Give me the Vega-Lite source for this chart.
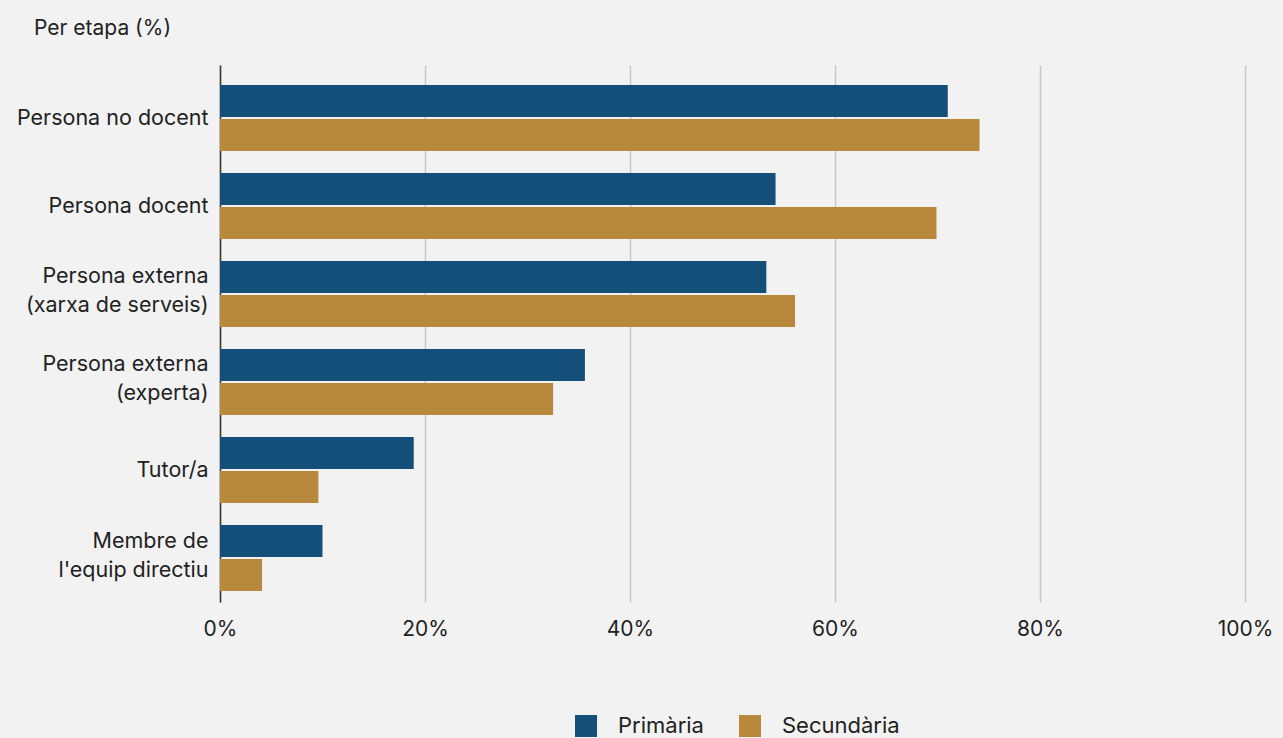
{
  "$schema": "https://vega.github.io/schema/vega-lite/v6.json",
  "width": 1025,
  "height": 537,
  "autosize": "none",
  "padding": {"left": 220, "top": 65, "right": 38, "bottom": 136},
  "background": "#F2F2F2",
  "title": {
    "text": "Per etapa (%)",
    "anchor": "start",
    "frame": "group",
    "dx": -186,
    "offset": 26,
    "fontSize": 21,
    "fontWeight": "normal",
    "font": "Inter",
    "color": "#222222"
  },
  "data": {
    "values": [
      {"categoria": "Persona no docent", "etapa": "Primària", "valor": 71.0},
      {"categoria": "Persona no docent", "etapa": "Secundària", "valor": 74.1},
      {"categoria": "Persona docent", "etapa": "Primària", "valor": 54.2},
      {"categoria": "Persona docent", "etapa": "Secundària", "valor": 69.9},
      {"categoria": "Persona externa (xarxa de serveis)", "etapa": "Primària", "valor": 53.3},
      {"categoria": "Persona externa (xarxa de serveis)", "etapa": "Secundària", "valor": 56.1},
      {"categoria": "Persona externa (experta)", "etapa": "Primària", "valor": 35.6},
      {"categoria": "Persona externa (experta)", "etapa": "Secundària", "valor": 32.5},
      {"categoria": "Tutor/a", "etapa": "Primària", "valor": 18.9},
      {"categoria": "Tutor/a", "etapa": "Secundària", "valor": 9.6},
      {"categoria": "Membre de l'equip directiu", "etapa": "Primària", "valor": 10.0},
      {"categoria": "Membre de l'equip directiu", "etapa": "Secundària", "valor": 4.1}
    ]
  },
  "mark": {"type": "bar"},
  "encoding": {
    "y": {
      "field": "categoria",
      "type": "nominal",
      "sort": null,
      "title": null,
      "scale": {"paddingInner": 0.25, "paddingOuter": 0.176, "align": 0.645},
      "axis": {
        "domain": true,
        "domainColor": "#333333",
        "domainWidth": 1.5,
        "ticks": false,
        "labelPadding": 12,
        "labelLimit": 0,
        "labelFontSize": 21.5,
        "labelFont": "Inter",
        "labelColor": "#222222",
        "labelLineHeight": 29,
        "labelOffset": {
          "condition": {"test": "indexof(datum.value, 'externa') >= 0 || indexof(datum.value, 'Membre') >= 0", "value": -16.5},
          "value": 1
        },
        "labelExpr": "datum.value == 'Persona externa (xarxa de serveis)' ? ['Persona externa', '(xarxa de serveis)'] : datum.value == 'Persona externa (experta)' ? ['Persona externa', '(experta)'] : datum.value == \"Membre de l'equip directiu\" ? ['Membre de', \"l'equip directiu\"] : datum.value"
      }
    },
    "yOffset": {
      "field": "etapa",
      "type": "nominal",
      "scale": {"paddingInner": 0.06}
    },
    "x": {
      "field": "valor",
      "type": "quantitative",
      "title": null,
      "scale": {"domain": [0, 100]},
      "axis": {
        "values": [0, 20, 40, 60, 80, 100],
        "labelExpr": "datum.value + '%'",
        "labelFlush": false,
        "labelOverlap": false,
        "domain": false,
        "ticks": false,
        "grid": true,
        "gridColor": "#C8C8C8",
        "gridWidth": 1.5,
        "labelPadding": 16,
        "labelFontSize": 21,
        "labelFont": "Inter",
        "labelColor": "#222222"
      }
    },
    "color": {
      "field": "etapa",
      "type": "nominal",
      "scale": {"domain": ["Primària", "Secundària"], "range": ["#134F78", "#B8893D"]},
      "legend": {
        "title": null,
        "orient": "none",
        "direction": "horizontal",
        "legendX": 355,
        "legendY": 650,
        "symbolType": "square",
        "symbolSize": 484,
        "symbolStrokeWidth": 0,
        "symbolOpacity": 1,
        "labelFontSize": 22,
        "labelFont": "Inter",
        "labelColor": "#222222",
        "labelOffset": 21,
        "columnPadding": 35
      }
    }
  },
  "config": {
    "view": {"stroke": null},
    "axis": {"gridDash": []}
  }
}
